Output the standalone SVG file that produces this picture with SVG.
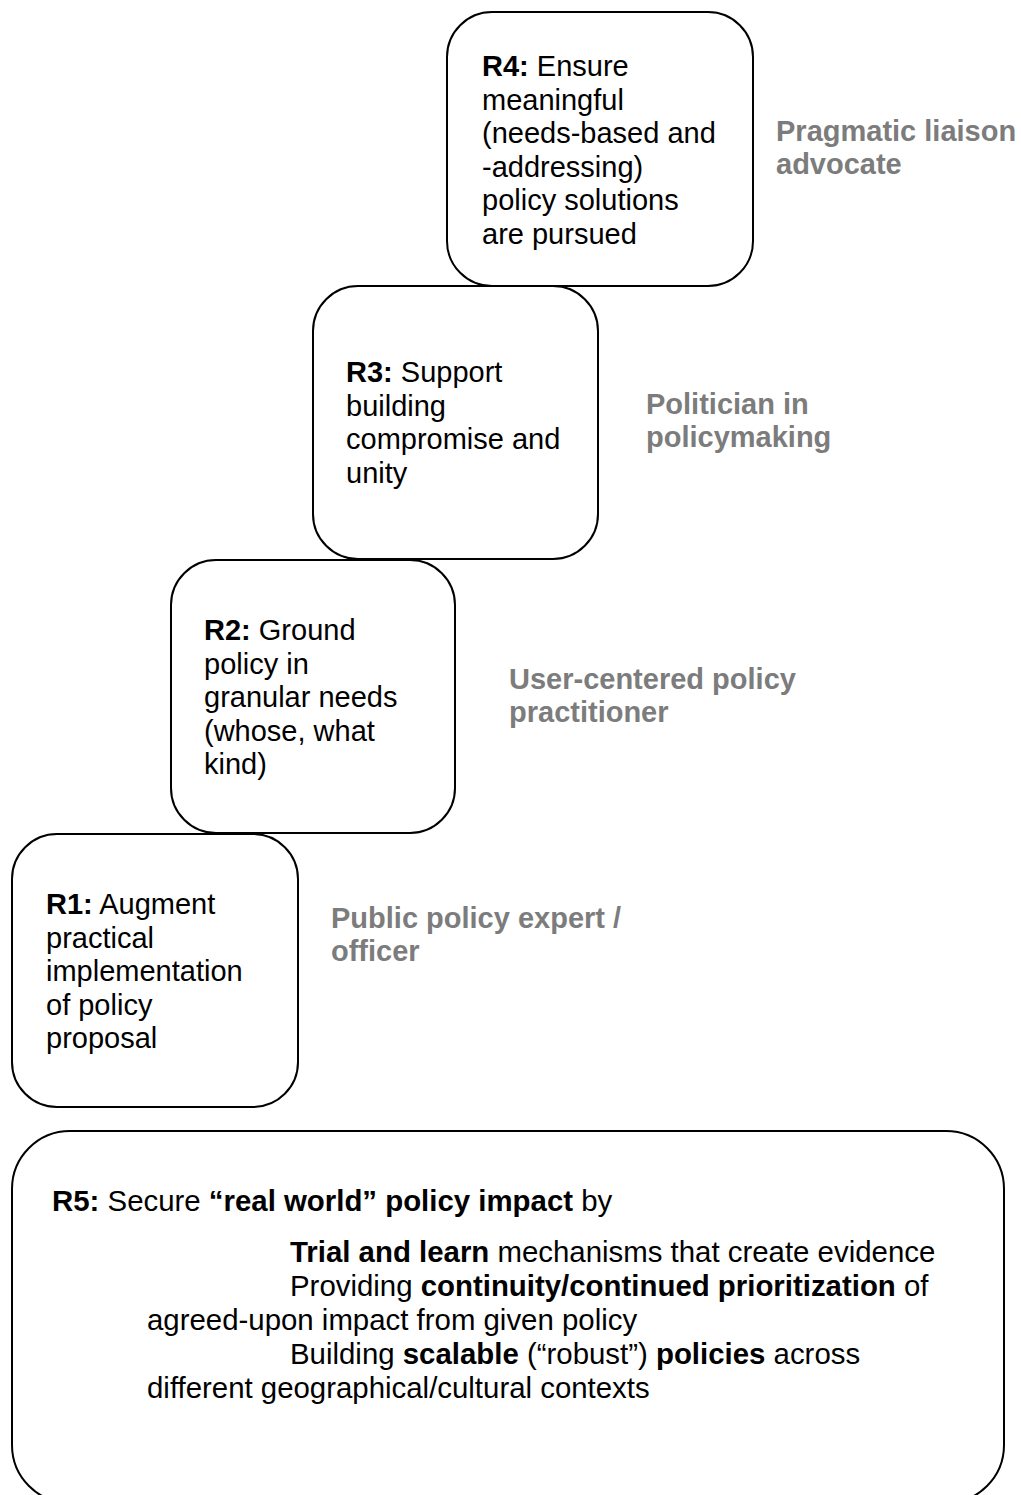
<svg xmlns="http://www.w3.org/2000/svg" width="1021" height="1495" viewBox="0 0 1021 1495">
  <style>
    .box { fill: #ffffff; stroke: #000000; stroke-width: 2; }
    .t { font-family: "Liberation Sans", Arial, sans-serif; font-size: 29px; fill: #000000; }
    .w { font-size: 29.4px; }
    .b { font-weight: bold; }
    .role { font-family: "Liberation Sans", Arial, sans-serif; font-size: 29px; font-weight: bold; fill: #7c7c7c; }
  </style>
  <rect width="1021" height="1495" fill="#ffffff"/>

  <g id="connectors"></g>

  <!-- R4 -->
  <g id="node-r4">
    <rect class="box" x="447" y="12" width="306" height="274" rx="45" ry="45"/>
    <text class="t" x="482" y="76"><tspan class="b">R4:</tspan> Ensure</text>
    <text class="t" x="482" y="109.5">meaningful</text>
    <text class="t" x="482" y="143">(needs-based and</text>
    <text class="t" x="482" y="176.5">-addressing)</text>
    <text class="t" x="482" y="210">policy solutions</text>
    <text class="t" x="482" y="243.5">are pursued</text>
  </g>
  <g id="label-r4">
    <text class="role" x="776" y="141">Pragmatic liaison</text>
    <text class="role" x="776" y="174">advocate</text>
  </g>

  <!-- R3 -->
  <g id="node-r3">
    <rect class="box" x="313" y="286" width="285" height="273" rx="45" ry="45"/>
    <text class="t" x="346" y="382"><tspan class="b">R3:</tspan> Support</text>
    <text class="t" x="346" y="415.5">building</text>
    <text class="t" x="346" y="449">compromise and</text>
    <text class="t" x="346" y="482.5">unity</text>
  </g>
  <g id="label-r3">
    <text class="role" x="646" y="414">Politician in</text>
    <text class="role" x="646" y="447">policymaking</text>
  </g>

  <!-- R2 -->
  <g id="node-r2">
    <rect class="box" x="171" y="560" width="284" height="273" rx="45" ry="45"/>
    <text class="t" x="204" y="640"><tspan class="b">R2:</tspan> Ground</text>
    <text class="t" x="204" y="673.5">policy in</text>
    <text class="t" x="204" y="707">granular needs</text>
    <text class="t" x="204" y="740.5">(whose, what</text>
    <text class="t" x="204" y="774">kind)</text>
  </g>
  <g id="label-r2">
    <text class="role" x="509" y="689">User-centered policy</text>
    <text class="role" x="509" y="722">practitioner</text>
  </g>

  <!-- R1 -->
  <g id="node-r1">
    <rect class="box" x="12" y="834" width="286" height="273" rx="45" ry="45"/>
    <text class="t" x="46" y="914"><tspan class="b">R1:</tspan> Augment</text>
    <text class="t" x="46" y="947.5">practical</text>
    <text class="t" x="46" y="981">implementation</text>
    <text class="t" x="46" y="1014.5">of policy</text>
    <text class="t" x="46" y="1048">proposal</text>
  </g>
  <g id="label-r1">
    <text class="role" x="331" y="928">Public policy expert /</text>
    <text class="role" x="331" y="961">officer</text>
  </g>

  <!-- R5 -->
  <g id="node-r5">
    <rect class="box" x="12" y="1131" width="992" height="372" rx="58" ry="58"/>
    <text class="t w" x="52" y="1211"><tspan class="b">R5:</tspan> Secure <tspan class="b">“real world” policy impact</tspan> by</text>
    <text class="t w" x="290" y="1262"><tspan class="b">Trial and learn</tspan> mechanisms that create evidence</text>
    <text class="t w" x="290" y="1296">Providing <tspan class="b">continuity/continued prioritization</tspan> of</text>
    <text class="t w" x="147" y="1330">agreed-upon impact from given policy</text>
    <text class="t w" x="290" y="1364">Building <tspan class="b">scalable</tspan> (“robust”) <tspan class="b">policies</tspan> across</text>
    <text class="t w" x="147" y="1398">different geographical/cultural contexts</text>
  </g>
</svg>
